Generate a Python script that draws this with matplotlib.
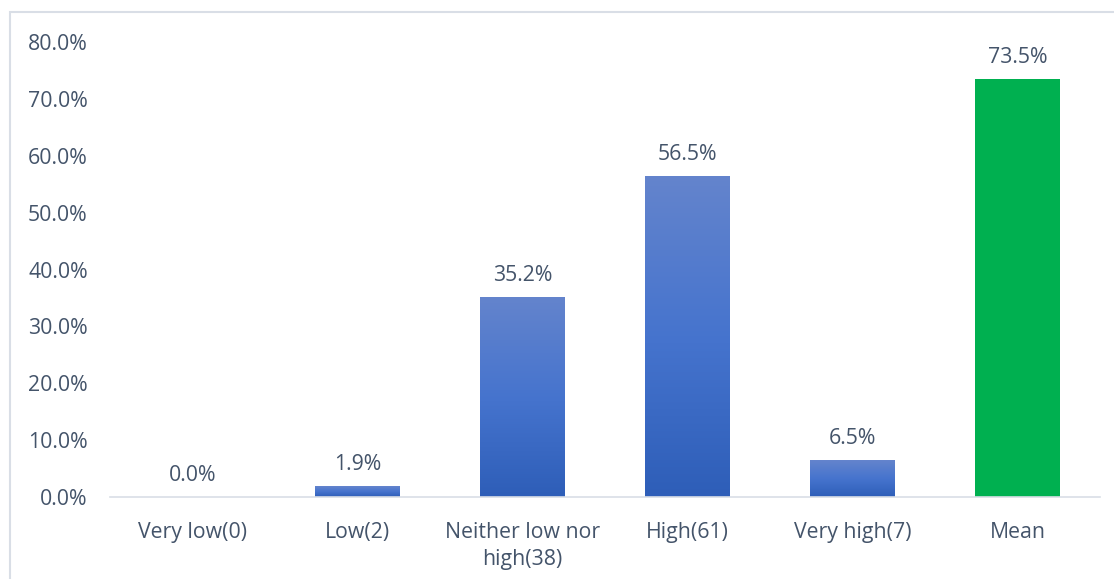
import numpy as np
import matplotlib.pyplot as plt
from matplotlib.patches import Rectangle
from matplotlib.colors import LinearSegmentedColormap

categories = ["Very low(0)", "Low(2)", "Neither low nor\nhigh(38)", "High(61)", "Very high(7)", "Mean"]
values = [0.0, 1.9, 35.2, 56.5, 6.5, 73.5]
labels = ["0.0%", "1.9%", "35.2%", "56.5%", "6.5%", "73.5%"]
yticks = [0, 10, 20, 30, 40, 50, 60, 70, 80]

text_col = "#44546A"
plt.rcParams['font.family'] = ['Open Sans', 'DejaVu Sans']
fs = 15.3

fig = plt.figure(figsize=(11.14, 5.79), dpi=100)
# light frame around the chart (bottom edge falls outside the picture)
fig.patches.append(Rectangle((10 / 1114, -0.1), 1.2, 1.1 - 12 / 579, transform=fig.transFigure,
                             fill=False, edgecolor="#D9DEE6", linewidth=1.5))
ax = fig.add_axes([110 / 1114, 1 - 497 / 579, 990 / 1114, (497 - 42) / 579])

x = np.arange(len(categories))
blues = LinearSegmentedColormap.from_list("b", ["#2E5EB8", "#4674CE", "#6484CC"])
bars = ax.bar(x, values, width=0.51, color="none", edgecolor="none")
grad = np.linspace(0, 1, 256).reshape(-1, 1)
for i, b in enumerate(bars):
    if categories[i] == "Mean":
        b.set_facecolor("#00B050")
        continue
    if values[i] <= 0:
        continue
    x0, w, h = b.get_x(), b.get_width(), b.get_height()
    im = ax.imshow(grad, cmap=blues, aspect="auto", origin="lower",
                   extent=[x0, x0 + w, 0, h], zorder=2)
    im.set_clip_path(b)

for i, v in enumerate(values):
    ax.text(x[i], v + 1.9, labels[i], ha="center", va="bottom", fontsize=fs, color=text_col)

ax.set_xlim(-0.5, len(categories) - 0.5)
ax.set_ylim(0, 80)
ax.set_yticks(yticks)
ax.set_yticklabels([f"{t:.1f}%" for t in yticks], fontsize=fs, color=text_col)
ax.set_xticks(x)
ax.set_xticklabels(categories, fontsize=fs, color=text_col, linespacing=1.4)
ax.tick_params(length=0, axis="both")
ax.tick_params(axis="y", pad=16)
ax.tick_params(axis="x", pad=18)
for s in ["top", "right", "left"]:
    ax.spines[s].set_visible(False)
ax.spines["bottom"].set_color("#D9DEE6")
ax.spines["bottom"].set_linewidth(1.2)

fig.savefig("out.png", dpi=100)
